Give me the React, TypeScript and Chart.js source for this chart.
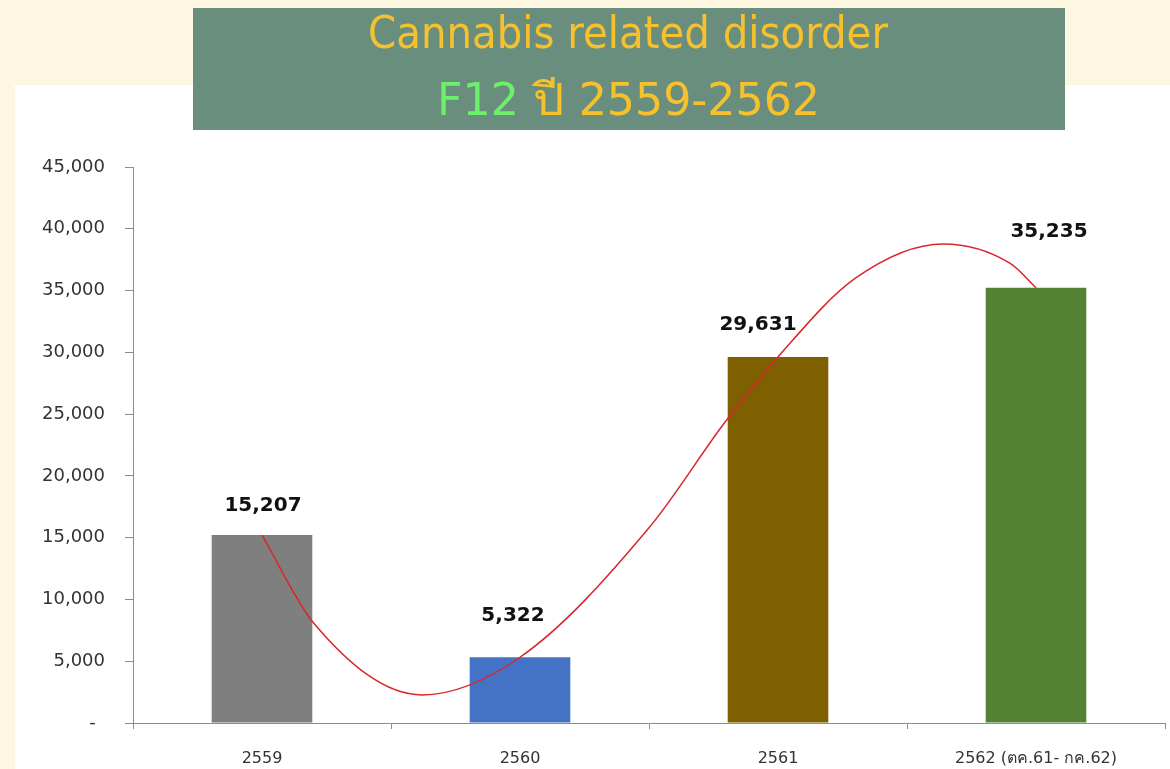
import React, { useEffect, useLayoutEffect, useRef } from "react";
import { Chart, registerables } from "chart.js";

Chart.register(...registerables);

// ---- data ----
const categories = ["2559", "2560", "2561", "2562 (ตค.61- กค.62)"];
const cases = [15207, 5322, 29631, 35235];
const barColors = ["#7f7f7f", "#4472c4", "#7f6000", "#548235"];
const yMax = 45000;
const yStep = 5000;

// hand-drawn trend curve (x = category index, y = value)
const trendX = [0, 0.2, 0.62, 1, 1.5, 1.8, 2, 2.3, 2.64, 2.9, 3];
const trendY = [15207, 8100, 2270, 5322, 15800, 24500, 29631, 36000, 38770, 37200, 35235];

// data-label nudges (dx, dy in px from the bar top centre)
const labelNudge = [
  [1, -29],
  [-7, -41],
  [-20, -32],
  [13, -56],
];

const titleLine1 = "Cannabis related disorder";
const titleCode = "F12";
const titleLine2 = " ปี 2559-2562";

const fmt = (v: number) => v.toLocaleString("en-US");

const labelPlugin = {
  id: "barLabels",
  afterDatasetsDraw(chart: any) {
    const meta = chart.getDatasetMeta(1);
    const ctx = chart.ctx;
    ctx.save();
    ctx.font = "bold 20px 'DejaVu Sans', sans-serif";
    ctx.fillStyle = "#111111";
    ctx.textAlign = "center";
    ctx.textBaseline = "middle";
    meta.data.forEach((bar: any, i: number) => {
      const [dx, dy] = labelNudge[i];
      ctx.fillText(fmt(cases[i]), bar.x + dx, bar.y + dy);
    });
    ctx.restore();
  },
};

function Title() {
  const l1 = useRef<HTMLSpanElement>(null);
  const l2 = useRef<HTMLSpanElement>(null);
  useLayoutEffect(() => {
    const fit = (el: HTMLSpanElement | null, w: number) => {
      if (!el) return;
      el.style.transform = "none";
      const cur = el.getBoundingClientRect().width;
      if (cur > 0) el.style.transform = `scaleX(${w / cur})`;
    };
    fit(l1.current, 520);
    fit(l2.current, 383);
  }, []);
  const base: React.CSSProperties = {
    position: "absolute",
    whiteSpace: "nowrap",
    transformOrigin: "left top",
    fontFamily: "'DejaVu Sans Condensed', 'DejaVu Sans', sans-serif",
    fontWeight: "normal",
    color: "#f6c12c",
    lineHeight: 1,
  };
  return (
    <div
      style={{
        position: "absolute",
        left: 193,
        top: 8,
        width: 872,
        height: 122,
        background: "#6a8e7e",
        zIndex: 3,
      }}
    >
      <span ref={l1} style={{ ...base, left: 368 - 193, top: 3, fontSize: 44 }}>
        {titleLine1}
      </span>
      <span ref={l2} style={{ ...base, left: 437 - 193, top: 69, fontSize: 45 }}>
        <span style={{ color: "#6cf06a" }}>{titleCode}</span>
        {titleLine2}
      </span>
    </div>
  );
}

export default function App() {
  const canvasRef = useRef<HTMLCanvasElement>(null);

  useEffect(() => {
    const canvas = canvasRef.current;
    if (!canvas) return;
    const chart = new Chart(canvas, {
      type: "bar",
      data: {
        labels: categories,
        datasets: [
          {
            type: "line",
            xAxisID: "xt",
            data: trendX.map((x, i) => ({ x, y: trendY[i] })),
            borderColor: "#d9262b",
            borderWidth: 1.5,
            cubicInterpolationMode: "monotone",
            pointRadius: 0,
            fill: false,
            order: 0,
          } as any,
          {
            type: "bar",
            xAxisID: "x",
            data: cases,
            backgroundColor: barColors,
            barPercentage: 0.39,
            categoryPercentage: 1,
            grouped: false,
            order: 1,
          } as any,
        ],
      },
      options: {
        animation: false,
        responsive: false,
        maintainAspectRatio: false,
        layout: { padding: { top: 167, right: 5, left: 0, bottom: 0 } },
        plugins: {
          legend: { display: false },
          tooltip: { enabled: false },
        },
        scales: {
          x: {
            offset: true,
            grid: {
              offset: true,
              drawOnChartArea: false,
              tickLength: 6,
              color: "#8c8c8c",
            },
            border: { color: "#8c8c8c" },
            ticks: {
              color: "#333333",
              padding: 20,
              maxRotation: 0,
              font: { family: "'DejaVu Sans', sans-serif", size: 16 },
            },
            afterFit: (s: any) => {
              s.height = 46;
            },
          },
          xt: {
            type: "linear",
            display: false,
            offset: false,
            bounds: "data",
            min: -0.5,
            max: categories.length - 0.5,
            grid: { offset: false },
          },
          y: {
            min: 0,
            max: yMax,
            ticks: {
              stepSize: yStep,
              color: "#333333",
              padding: 20,
              font: { family: "'DejaVu Sans', sans-serif", size: 18 },
              callback: (v: any) => (Number(v) === 0 ? "- \u2009" : fmt(Number(v))),
            },
            grid: {
              drawOnChartArea: false,
              tickLength: 8,
              color: "#8c8c8c",
            },
            border: { color: "#8c8c8c" },
            afterFit: (s: any) => {
              s.width = 133;
            },
          },
        },
      },
      plugins: [labelPlugin],
    } as any);
    return () => chart.destroy();
  }, []);

  return (
    <div
      style={{
        position: "fixed",
        left: 0,
        top: 0,
        width: 1170,
        height: 769,
        background: "#fdf7e2",
        overflow: "hidden",
      }}
    >
      <div
        style={{
          position: "absolute",
          left: 15,
          top: 85,
          right: 0,
          bottom: 0,
          background: "#ffffff",
          zIndex: 1,
        }}
      />
      <canvas
        ref={canvasRef}
        width={1170}
        height={769}
        style={{ position: "absolute", left: 0, top: 0, width: 1170, height: 769, zIndex: 2 }}
      />
      <Title />
    </div>
  );
}
